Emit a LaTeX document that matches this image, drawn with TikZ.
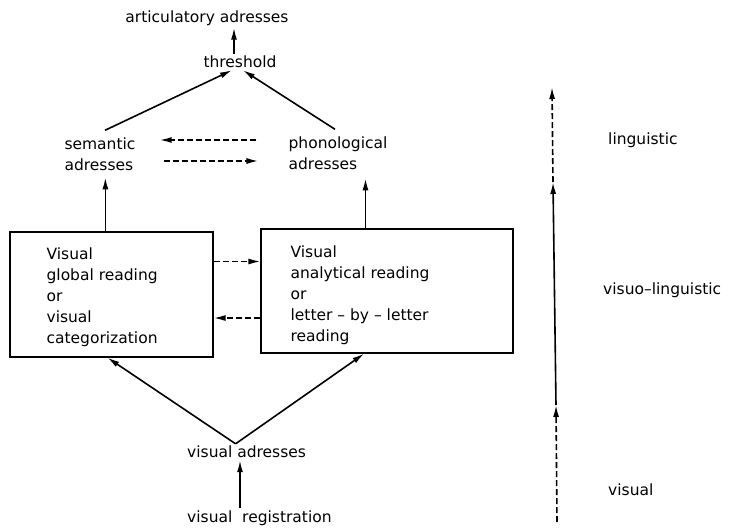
\documentclass[tikz,border=0pt]{standalone}
\usepackage{fontspec}
\setmainfont{DejaVu Sans}
\usetikzlibrary{calc, positioning, arrows.meta}

\tikzset{
    lbl/.style={font=\fontsize{15.5}{21}\selectfont, inner sep=2pt, align=left},
    readbox/.style={draw, line width=1.2pt, minimum width=203pt, minimum height=125pt},
    arr/.style={line width=1.6pt, -{Latex[length=12pt,width=6pt]}},
    darr/.style={arr, dash pattern=on 6pt off 3pt},
}

\begin{document}
\begin{tikzpicture}[x=1pt, y=-1pt]
    \useasboundingbox (0,0) rectangle (729,528);

    % levels of the model
    \node[lbl] (art) at (207,18) {articulatory adresses};
    \node[lbl] (thr) at (240,62) {threshold};
    \node[lbl] (sem) at (100,154) {semantic\\adresses};
    \node[lbl] (phon) at (338,153) {phonological\\adresses};

    % the two reading routes
    \node[readbox] (global) at (111.5,294.5) {};
    \node[readbox, minimum width=252pt, minimum height=124pt] (ana) at (387,291) {};
    \node[lbl, anchor=north west] (globaltxt) at ($(global.north west)+(35,14)$)
        {Visual\\global reading\\or\\visual\\categorization};
    \node[lbl, anchor=north west] (anatxt) at ($(ana.north west)+(28,15)$)
        {Visual\\analytical reading\\or\\letter – by – letter\\reading};

    \node[lbl, anchor=west] (vad) at (185,452) {visual adresses};
    \node[lbl, anchor=west] (vreg) at (185,518) {visual\ \ registration};

    % connectors
    \draw[arr] ([xshift=-6pt]thr.north) -- ([xshift=-6pt]thr.north |- art.south);
    \draw[arr] ([xshift=5pt,yshift=5pt]sem.north) -- ([xshift=-8pt]thr.south);
    \draw[arr] ([xshift=-3pt,yshift=5pt]phon.north) -- ([xshift=3pt]thr.south);
    \draw[darr] ([xshift=-30pt,yshift=13pt]phon.west) -- ([xshift=22pt,yshift=14pt]sem.east);
    \draw[darr] ([xshift=26pt,yshift=-7pt]sem.east) -- ([xshift=-28pt,yshift=-8pt]phon.west);

    \draw[arr] ($(global.north west)!0.47!(global.north east)$) -- ++(0,-54);
    \draw[arr] ($(ana.north west)!0.415!(ana.north east)$) -- ++(0,-50);
    \draw[darr] ([yshift=33pt]global.east) -- ([yshift=33pt]global.east -| ana.west);
    \draw[darr] ([yshift=-23.5pt]global.east -| ana.west) -- ([yshift=-23.5pt]global.east);

    \draw[arr] ([xshift=-11pt]vad.north) -- ($(global.south west)!0.48!(global.south east)$);
    \draw[arr] ([xshift=-11pt]vad.north) -- ($(ana.south west)!0.41!(ana.south east)$);
    \draw[arr] ([xshift=55pt]vreg.north west) -- ([xshift=55pt]vad.south west);

    % processing axis
    \coordinate (ax0) at (557,522);
    \coordinate (ax1) at (556,405);
    \coordinate (ax2) at (553,182);
    \coordinate (ax3) at (552,87);
    \draw[darr] (ax0) -- (ax1);
    \draw[arr] (ax1) -- (ax2);
    \draw[darr] (ax2) -- (ax3);

    \node[lbl, anchor=west] (ling) at (606,140) {linguistic};
    \node[lbl, anchor=west] (visling) at (601,290) {visuo–linguistic};
    \node[lbl, anchor=west] (vis) at (606,490) {visual};
\end{tikzpicture}
\end{document}
